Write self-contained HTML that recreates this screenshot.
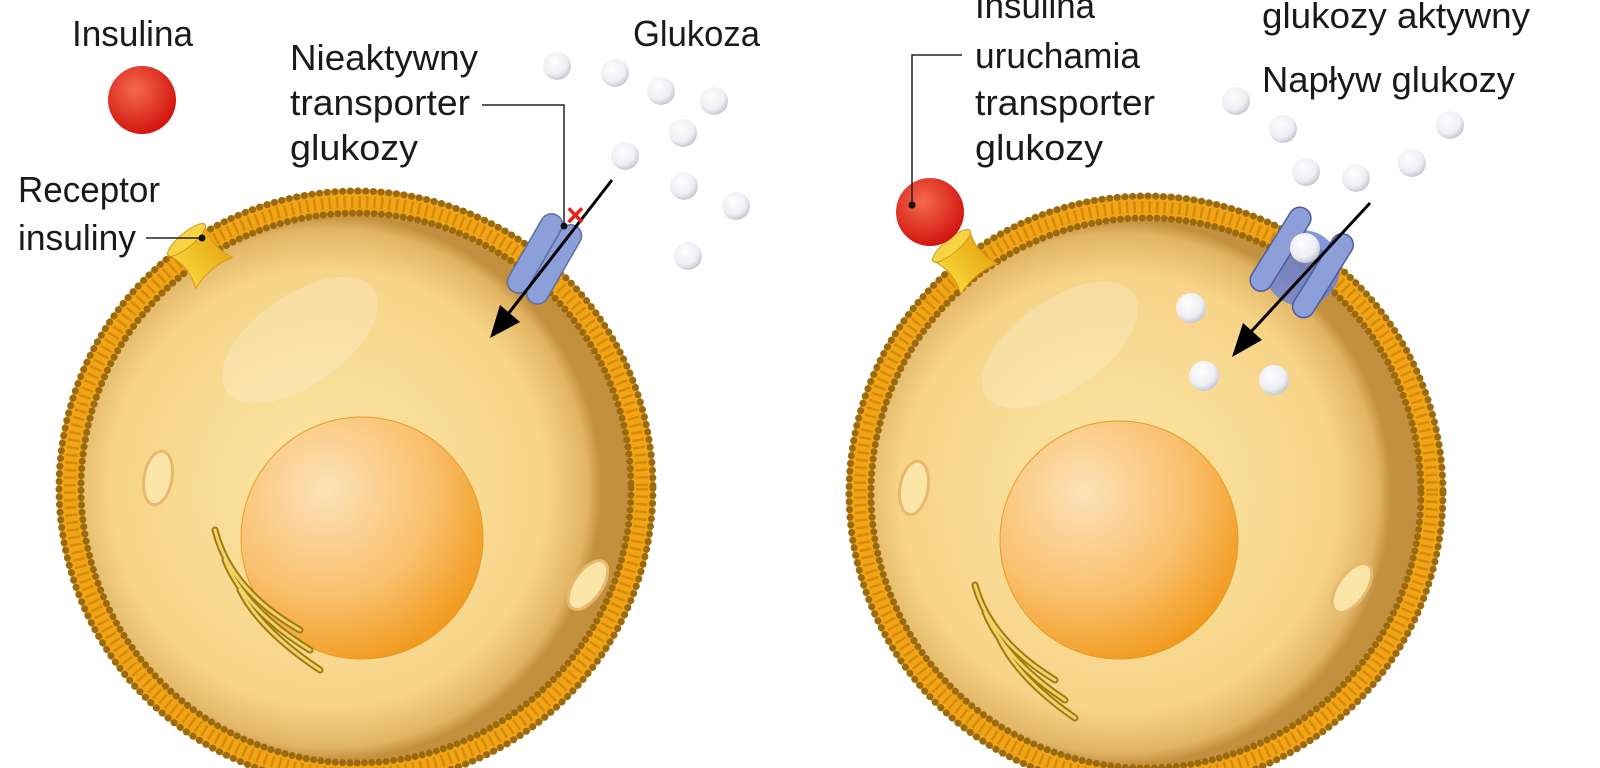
<!DOCTYPE html>
<html><head><meta charset="utf-8"><style>
html,body{margin:0;padding:0;background:#fff;width:1600px;height:768px;overflow:hidden}
text{font-family:"Liberation Sans",sans-serif;fill:#1a1a1a;font-size:36px}
</style></head><body>
<svg width="1600" height="768" viewBox="0 0 1600 768" xmlns="http://www.w3.org/2000/svg">
<defs>
<radialGradient id="cyto" cx="0.45" cy="0.5" r="0.5">
<stop offset="0" stop-color="#fde7a6"/><stop offset="0.8" stop-color="#f6d488"/><stop offset="0.95" stop-color="#e2b565"/><stop offset="1" stop-color="#c2903e"/></radialGradient>
<radialGradient id="nuc" cx="0.35" cy="0.3" r="0.75">
<stop offset="0" stop-color="#fde2b8"/><stop offset="0.6" stop-color="#f9bf6c"/><stop offset="1" stop-color="#f19a1c"/></radialGradient>
<radialGradient id="ball" cx="0.4" cy="0.35" r="0.65">
<stop offset="0" stop-color="#ffffff"/><stop offset="0.7" stop-color="#eeeef4"/><stop offset="1" stop-color="#c9c9d6"/></radialGradient>
<radialGradient id="red" cx="0.4" cy="0.35" r="0.65">
<stop offset="0" stop-color="#f46a4e"/><stop offset="1" stop-color="#d3150f"/></radialGradient>
<linearGradient id="yel" x1="0" x2="1"><stop offset="0" stop-color="#f9d43a"/><stop offset="1" stop-color="#e7a914"/></linearGradient>
<g id="spool">
<path d="M-24,-22 Q0,-14 24,-22 Q14,0 24,22 Q0,14 -24,22 Q-14,0 -24,-22 Z" fill="url(#yel)" stroke="#d59a10"/>
<ellipse cx="0" cy="-21" rx="24" ry="7" fill="#f7d445" stroke="#d59a10"/>
</g>
<g id="mem">
<circle r="286" fill="none" stroke="#f2a417" stroke-width="26"/>
<circle r="297" fill="none" stroke="#9a6a10" stroke-width="7" stroke-dasharray="0.1 7.6" stroke-linecap="round"/>
<circle r="286" fill="none" stroke="#d48a0a" stroke-width="12" stroke-dasharray="2.5 5"/>
<circle r="275" fill="none" stroke="#9a6a10" stroke-width="7" stroke-dasharray="0.1 7.2" stroke-linecap="round"/>
</g>
</defs>

<!-- LEFT CELL -->
<circle cx="356" cy="488" r="273" fill="url(#cyto)"/>
<use href="#mem" transform="translate(356 488)"/>
<ellipse cx="300" cy="340" rx="90" ry="45" fill="#fff" opacity="0.2" transform="rotate(-35 300 340)"/>
<circle cx="362" cy="538" r="121" fill="url(#nuc)" stroke="#e79a2a" stroke-width="1"/>
<ellipse cx="158" cy="478" rx="14" ry="27" fill="#fbe6a8" stroke="#e8b870" stroke-width="3" transform="rotate(10 158 478)"/>
<ellipse cx="588" cy="585" rx="14" ry="28" fill="#fbe6a8" stroke="#e8b870" stroke-width="3" transform="rotate(35 588 585)"/>
<g fill="none" stroke="#a07a10" stroke-width="7" stroke-linecap="round">
<path d="M215 530 Q230 590 300 630"/><path d="M225 560 Q245 610 310 650"/><path d="M240 590 Q260 630 320 670"/>
</g>
<g fill="none" stroke="#f2d36a" stroke-width="3" stroke-linecap="round">
<path d="M215 530 Q230 590 300 630"/><path d="M225 560 Q245 610 310 650"/><path d="M240 590 Q260 630 320 670"/>
</g>
<use href="#spool" transform="translate(200 256) rotate(-40)"/>
<g transform="rotate(30 545 258)">
<rect x="523" y="215" width="22" height="88" rx="11" fill="#8d9fd8" stroke="#5a6ea8" stroke-width="1.5"/>
<rect x="545" y="215" width="22" height="88" rx="11" fill="#8d9fd8" stroke="#5a6ea8" stroke-width="1.5"/>
</g>
<line x1="612" y1="180" x2="505" y2="318" stroke="#000" stroke-width="3"/>
<path d="M490 338 L520 322 L500 305 Z" fill="#000"/>
<text x="566" y="226" style="fill:#e2261b;font-weight:bold;font-size:32px">×</text>

<!-- RIGHT CELL -->
<circle cx="1146" cy="493" r="273" fill="url(#cyto)"/>
<use href="#mem" transform="translate(1146 493)"/>
<ellipse cx="1060" cy="345" rx="90" ry="45" fill="#fff" opacity="0.2" transform="rotate(-35 1060 345)"/>
<circle cx="1119" cy="540" r="119" fill="url(#nuc)" stroke="#e79a2a" stroke-width="1"/>
<ellipse cx="914" cy="488" rx="14" ry="27" fill="#fbe6a8" stroke="#e8b870" stroke-width="3" transform="rotate(10 914 488)"/>
<ellipse cx="1352" cy="588" rx="14" ry="28" fill="#fbe6a8" stroke="#e8b870" stroke-width="3" transform="rotate(35 1352 588)"/>
<g fill="none" stroke="#a07a10" stroke-width="7" stroke-linecap="round">
<path d="M975 585 Q990 640 1055 680"/><path d="M985 612 Q1005 660 1065 700"/><path d="M1000 640 Q1020 680 1075 718"/>
</g>
<g fill="none" stroke="#f2d36a" stroke-width="3" stroke-linecap="round">
<path d="M975 585 Q990 640 1055 680"/><path d="M985 612 Q1005 660 1065 700"/><path d="M1000 640 Q1020 680 1075 718"/>
</g>
<use href="#spool" transform="translate(965 262) rotate(-40)"/>
<circle cx="930" cy="212" r="34" fill="url(#red)"/>
<circle cx="1302" cy="268" r="38" fill="#6f84d4" opacity="0.85"/>
<g transform="rotate(32 1302 262)">
<rect x="1266" y="215" width="22" height="95" rx="11" fill="#8d9fd8" stroke="#4a5ea0" stroke-width="1.5"/>
<rect x="1316" y="215" width="22" height="95" rx="11" fill="#8d9fd8" stroke="#4a5ea0" stroke-width="1.5"/>
</g>
<line x1="1370" y1="203" x2="1248" y2="335" stroke="#000" stroke-width="3"/>
<path d="M1232 357 L1262 340 L1243 323 Z" fill="#000"/>
<circle cx="1305" cy="248" r="15" fill="url(#ball)"/>
<circle cx="1191" cy="308" r="15" fill="url(#ball)"/>
<circle cx="1204" cy="376" r="15" fill="url(#ball)"/>
<circle cx="1274" cy="380" r="15" fill="url(#ball)"/>

<g fill="url(#ball)">
<circle cx="557" cy="66" r="14"/><circle cx="615" cy="73" r="14"/><circle cx="661" cy="91" r="14"/>
<circle cx="714" cy="101" r="14"/><circle cx="683" cy="133" r="14"/><circle cx="625" cy="156" r="14"/>
<circle cx="684" cy="186" r="14"/><circle cx="736" cy="206" r="14"/><circle cx="688" cy="256" r="14"/>
<circle cx="1236" cy="101" r="14"/><circle cx="1283" cy="129" r="14"/><circle cx="1450" cy="125" r="14"/>
<circle cx="1306" cy="172" r="14"/><circle cx="1356" cy="178" r="14"/><circle cx="1412" cy="163" r="14"/>
</g>

<circle cx="142" cy="100" r="34" fill="url(#red)"/>

<text x="72" y="46" textLength="121" lengthAdjust="spacingAndGlyphs">Insulina</text>
<text x="18" y="202" textLength="142" lengthAdjust="spacingAndGlyphs">Receptor</text>
<text x="18" y="250" textLength="118" lengthAdjust="spacingAndGlyphs">insuliny</text>
<line x1="146" y1="238" x2="202" y2="238" stroke="#222" stroke-width="1.5"/>
<circle cx="202" cy="238" r="3.5" fill="#111"/>
<text x="290" y="70" textLength="188" lengthAdjust="spacingAndGlyphs">Nieaktywny</text>
<text x="290" y="115" textLength="180" lengthAdjust="spacingAndGlyphs">transporter</text>
<text x="290" y="160" textLength="128" lengthAdjust="spacingAndGlyphs">glukozy</text>
<polyline points="482,105 564,105 564,225" fill="none" stroke="#222" stroke-width="1.5"/>
<circle cx="564" cy="226" r="3.5" fill="#111"/>
<text x="633" y="46" textLength="127" lengthAdjust="spacingAndGlyphs">Glukoza</text>

<text x="975" y="18" textLength="120" lengthAdjust="spacingAndGlyphs">Insulina</text>
<text x="975" y="68" textLength="165" lengthAdjust="spacingAndGlyphs">uruchamia</text>
<text x="975" y="115" textLength="180" lengthAdjust="spacingAndGlyphs">transporter</text>
<text x="975" y="160" textLength="128" lengthAdjust="spacingAndGlyphs">glukozy</text>
<polyline points="962,55 912,55 912,205" fill="none" stroke="#222" stroke-width="1.5"/>
<circle cx="912" cy="205" r="3.5" fill="#111"/>
<text x="1262" y="28" textLength="268" lengthAdjust="spacingAndGlyphs">glukozy aktywny</text>
<text x="1262" y="92" textLength="253" lengthAdjust="spacingAndGlyphs">Napływ glukozy</text>
</svg>
</body></html>
